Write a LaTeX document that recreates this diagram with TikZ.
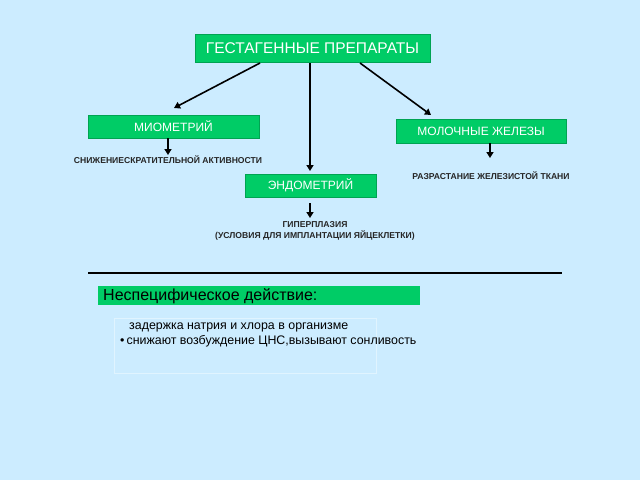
\documentclass[tikz,border=0pt]{standalone}
\usepackage{fontspec}
\setmainfont{Liberation Sans}
\usetikzlibrary{arrows.meta}
\definecolor{bgblue}{HTML}{CCECFF}
\definecolor{boxgreen}{HTML}{00CC66}
\begin{document}
\begin{tikzpicture}[x=1pt,y=-1pt,
  gbox/.style={fill=boxgreen,draw=boxgreen!80!black,line width=0.3pt,inner sep=0pt,text=white},
  arr/.style={line width=1.6pt,-{Triangle[length=6pt,width=7pt]}},
  small/.style={font=\fontsize{8.6}{10.3}\selectfont\bfseries,inner sep=0pt,align=center,text=black!85}]
\fill[bgblue] (0,0) rectangle (640,480);
\useasboundingbox (0,0) rectangle (640,480);
% boxes
\node[gbox,minimum width=235pt,minimum height=28pt,font=\fontsize{15.5}{17}\selectfont] (top) at (312.5,48) {ГЕСТАГЕННЫЕ ПРЕПАРАТЫ};
\node[gbox,minimum width=171pt,minimum height=23pt,font=\fontsize{12}{14}\selectfont] (mio) at (173.5,126.5) {МИОМЕТРИЙ};
\node[gbox,minimum width=170pt,minimum height=24pt,font=\fontsize{12}{14}\selectfont] (mol) at (481,131) {МОЛОЧНЫЕ ЖЕЛЕЗЫ};
\node[gbox,minimum width=131pt,minimum height=23pt,font=\fontsize{12}{14}\selectfont] (endo) at (310.5,185.5) {ЭНДОМЕТРИЙ};
% texts
\node[small] (t1) at (168,160) {СНИЖЕНИЕСКРАТИТЕЛЬНОЙ АКТИВНОСТИ};
\node[small] (t2) at (491,176) {РАЗРАСТАНИЕ ЖЕЛЕЗИСТОЙ ТКАНИ};
\node[small] (t3) at (315,231) {ГИПЕРПЛАЗИЯ\\(УСЛОВИЯ ДЛЯ ИМПЛАНТАЦИИ ЯЙЦЕКЛЕТКИ)};
% arrows
\coordinate (a1s) at (260,63); \coordinate (a1e) at (174,108);
\coordinate (a2s) at (310,63); \coordinate (a2e) at (310,171);
\coordinate (a3s) at (360,63); \coordinate (a3e) at (431,115);
\draw[arr] (a1s) -- (a1e);
\draw[arr] (a2s) -- (a2e);
\draw[arr] (a3s) -- (a3e);
\draw[arr] (mio.south -| 168,0) -- (168,155);
\draw[arr] (mol.south -| 490,0) -- (490,158);
\draw[arr] (310,203) -- (310,218);
% separator
\coordinate (l1) at (88,273); \coordinate (l2) at (562,273);
\draw[line width=1.8pt] (l1) -- (l2);
% nonspecific
\node[fill=boxgreen,minimum width=322pt,minimum height=19pt,inner sep=0pt] (ns) at (259,295.5) {};
\node[anchor=west,inner sep=0pt,font=\fontsize{16}{18}\selectfont] (nst) at (103,296) {Неспецифическое действие:};
\node[draw=white!40!bgblue,line width=0.5pt,minimum width=262pt,minimum height=55pt,inner sep=0pt] (lst) at (245,346) {};
\node[anchor=west,inner sep=0pt,font=\fontsize{12.4}{14}\selectfont] (b1) at (129,327.5) {задержка натрия и хлора в организме};
\node[anchor=west,inner sep=0pt,font=\fontsize{12.4}{14}\selectfont] (b2) at (120,341) {•\,снижают возбуждение ЦНС,вызывают сонливость};
\end{tikzpicture}
\end{document}
